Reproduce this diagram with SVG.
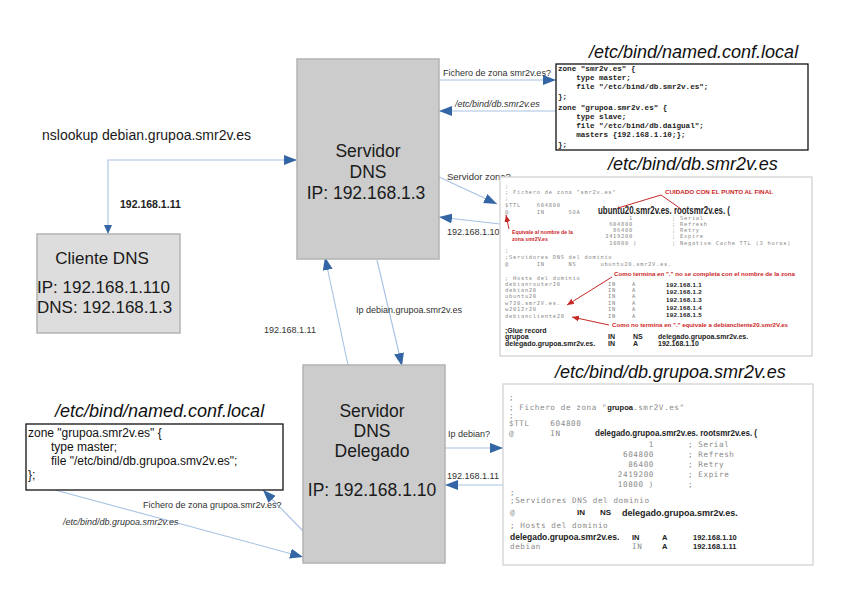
<svg xmlns="http://www.w3.org/2000/svg" width="848" height="599" viewBox="0 0 848 599">
<style>
.bg{fill:#ffffff}
.node{fill:#cccccc;stroke:#b3b3b3;stroke-width:1.5}
.client{fill:#dddddd;stroke:#b3b3b3;stroke-width:1.5}
.big{font-family:"Liberation Sans",Arial,sans-serif;font-size:17.5px;fill:#1a1a1a}
.title{font-family:"Liberation Sans",Arial,sans-serif;font-size:18px;font-style:italic;fill:#111}
.lbl{font-family:"Liberation Sans",Arial,sans-serif;font-size:9px;fill:#333}
.lbli{font-family:"Liberation Sans",Arial,sans-serif;font-size:9px;font-style:italic;fill:#333}
.conn{fill:none;stroke:#a7c1e3;stroke-width:1.1}
.cfg{fill:#ffffff;stroke:#111;stroke-width:1.3}
.cfgtxt{font-family:"Liberation Mono","Courier New",monospace;font-size:7.6px;font-weight:bold;fill:#222;white-space:pre}
.cfgl{font-family:"Liberation Sans",Arial,sans-serif;font-size:12px;fill:#111}
.shot{fill:#ffffff;stroke:#cfcfcf;stroke-width:1.2}
.m1{font-family:"DejaVu Sans Mono",monospace;font-size:5.4px;letter-spacing:0.73px;fill:#8a8a8a;white-space:pre}
.m2{font-family:"DejaVu Sans Mono",monospace;font-size:7.6px;letter-spacing:0.6px;fill:#8a8a8a;white-space:pre}
.b1{font-family:"Liberation Sans",Arial,sans-serif;font-weight:bold;fill:#222}
.ip1{font-family:"Liberation Sans",Arial,sans-serif;font-weight:bold;fill:#222;font-size:6.2px;letter-spacing:0.3px}
.red{font-family:"Liberation Sans",Arial,sans-serif;font-weight:bold;font-size:5.2px;fill:#cc1f1f}
.rl{fill:none;stroke:#c62828;stroke-width:1}
</style>
<defs>
<marker id="ah" markerUnits="userSpaceOnUse" markerWidth="13" markerHeight="10" refX="13" refY="5" orient="auto-start-reverse">
<path d="M0,0 L13,5 L0,10 Z" fill="#3465a4"/>
</marker>
<marker id="ahs" markerUnits="userSpaceOnUse" markerWidth="9" markerHeight="8" refX="9" refY="4" orient="auto-start-reverse">
<path d="M0,0 L9,4 L0,8 Z" fill="#3465a4"/>
</marker>
<marker id="ar" markerUnits="userSpaceOnUse" markerWidth="7" markerHeight="6" refX="7" refY="3" orient="auto">
<path d="M0,0 L7,3 L0,6 Z" fill="#c62828"/>
</marker>
</defs>
<rect class="bg" x="0" y="0" width="848" height="599"/>

<g id="connectors">
<path class="conn" d="M108,234 V160 H297" marker-start="url(#ahs)" marker-end="url(#ah)"/>
<path class="conn" d="M439,80 H556" marker-end="url(#ah)"/>
<path class="conn" d="M556,111 H439" marker-end="url(#ah)"/>
<path class="conn" d="M437,176 L497,204" marker-end="url(#ah)"/>
<path class="conn" d="M500,224 L439,217" marker-end="url(#ah)"/>
<path class="conn" d="M348,365 L325,257" marker-end="url(#ah)"/>
<path class="conn" d="M377,260 L402,366" marker-end="url(#ah)"/>
<path class="conn" d="M445,448 H503" marker-end="url(#ah)"/>
<path class="conn" d="M503,485 H445" marker-end="url(#ah)"/>
<path class="conn" d="M305,533 L263,490" marker-end="url(#ah)"/>
<path class="conn" d="M55,490 L303,557" marker-end="url(#ah)"/>
<text class="lbl" x="443" y="76">Fichero de zona smr2v.es?</text>
<text class="lbli" x="455" y="107">/etc/bind/db.smr2v.es</text>
<text class="lbl" x="447" y="180" style="font-size:9.5px">Servidor zona?</text>
<text class="lbl" x="447" y="235">192.168.1.10</text>
<text class="lbl" x="356" y="313">Ip debian.grupoa.smr2v.es</text>
<text class="lbl" x="264" y="333">192.168.1.11</text>
<text class="lbl" x="448" y="437">Ip debian?</text>
<text class="lbl" x="447" y="479">192.168.1.11</text>
<text class="lbl" x="143" y="508">Fichero de zona grupoa.smr2v.es?</text>
<text class="lbli" x="63" y="525">/etc/bind/db.grupoa.smr2v.es</text>
<text class="lbl" x="120" y="208" style="font-size:10.5px;font-weight:bold;fill:#222">192.168.1.11</text>
<text x="42" y="140" style="font-family:'Liberation Sans',Arial,sans-serif;font-size:14px;fill:#1a1a1a">nslookup debian.grupoa.smr2v.es</text>
</g>

<g id="servidor-dns">
<rect class="node" x="297" y="59" width="142" height="200"/>
<text class="big" x="368" y="157" text-anchor="middle">Servidor</text>
<text class="big" x="368" y="178" text-anchor="middle">DNS</text>
<text class="big" x="366" y="199" text-anchor="middle">IP: 192.168.1.3</text>
</g>

<g id="servidor-delegado">
<rect class="node" x="303" y="365" width="142" height="198"/>
<text class="big" x="372" y="417" text-anchor="middle">Servidor</text>
<text class="big" x="372" y="437" text-anchor="middle">DNS</text>
<text class="big" x="372" y="457" text-anchor="middle">Delegado</text>
<text class="big" x="372" y="496" text-anchor="middle">IP: 192.168.1.10</text>
</g>

<g id="cliente-dns">
<rect class="client" x="37" y="234" width="143" height="99"/>
<text class="big" x="102" y="264" text-anchor="middle" style="font-size:17px">Cliente DNS</text>
<text class="big" x="37" y="293" style="font-size:17px">IP: 192.168.1.110</text>
<text class="big" x="37" y="313" style="font-size:17px">DNS: 192.168.1.3</text>
</g>

<g id="named-conf-master">
<text class="title" x="589" y="58">/etc/bind/named.conf.local</text>
<rect class="cfg" x="556" y="64" width="252" height="86"/>
<text class="cfgtxt" x="558" y="71">zone "smr2v.es" {</text>
<text class="cfgtxt" x="558" y="80">    type master;</text>
<text class="cfgtxt" x="558" y="89">    file "/etc/bind/db.smr2v.es";</text>
<text class="cfgtxt" x="558" y="99">};</text>
<text class="cfgtxt" x="558" y="110">zone "grupoa.smr2v.es" {</text>
<text class="cfgtxt" x="558" y="119">    type slave;</text>
<text class="cfgtxt" x="558" y="128">    file "/etc/bind/db.daigual";</text>
<text class="cfgtxt" x="558" y="137">    masters {192.168.1.10;};</text>
<text class="cfgtxt" x="558" y="147">};</text>
</g>

<g id="named-conf-delegado">
<text class="title" x="55" y="417">/etc/bind/named.conf.local</text>
<rect class="cfg" x="26" y="424" width="257" height="66"/>
<text class="cfgl" x="28" y="437">zone "grupoa.smr2v.es" {</text>
<text class="cfgl" x="51" y="451">type master;</text>
<text class="cfgl" x="51" y="465">file "/etc/bind/db.grupoa.smv2v.es";</text>
<text class="cfgl" x="28" y="479">};</text>
</g>

<g id="db-smr2v">
<text class="title" x="608" y="170">/etc/bind/db.smr2v.es</text>
<rect class="shot" x="500" y="177" width="312" height="179"/>
<text class="m1" x="505" y="188">;</text>
<text class="m1" x="505" y="194">; Fichero de zona "smr2v.es"</text>
<text class="m1" x="505" y="200">;</text>
<text class="m1" x="505" y="207">$TTL    604800</text>
<text class="m1" x="505" y="214">@       IN      SOA</text>
<text class="b1" x="598" y="214" style="font-size:10px" textLength="132" lengthAdjust="spacingAndGlyphs">ubuntu20.smr2v.es. rootsmr2v.es. (</text>
<text class="m1" x="633" y="220" text-anchor="end">1</text>
<text class="m1" x="633" y="226" text-anchor="end">604800</text>
<text class="m1" x="633" y="232" text-anchor="end">86400</text>
<text class="m1" x="633" y="238" text-anchor="end">2419200</text>
<text class="m1" x="637" y="245" text-anchor="end">10800 )</text>
<text class="m1" x="672" y="220">; Serial</text>
<text class="m1" x="672" y="226">; Refresh</text>
<text class="m1" x="672" y="232">; Retry</text>
<text class="m1" x="672" y="238">; Expire</text>
<text class="m1" x="672" y="245">; Negative Cache TTL (3 horas)</text>
<text class="m1" x="505" y="252">;</text>
<text class="m1" x="505" y="259">;Servidores DNS del dominio</text>
<text class="m1" x="505" y="266">@       IN      NS      ubuntu20.smr2V.es.</text>
<text class="m1" x="505" y="280">; Hosts del dominio</text>
<text class="m1" x="505" y="286">debianrouter20</text>
<text class="m1" x="505" y="292">debian20</text>
<text class="m1" x="505" y="298">ubuntu20</text>
<text class="m1" x="505" y="305">w720.smr2V.es.</text>
<text class="m1" x="505" y="311">w2012r20</text>
<text class="m1" x="505" y="318">debiancliente20</text>
<text class="m1" x="608" y="286">IN</text><text class="m1" x="632" y="286">A</text>
<text class="m1" x="608" y="292">IN</text><text class="m1" x="632" y="292">A</text>
<text class="m1" x="608" y="298">IN</text><text class="m1" x="632" y="298">A</text>
<text class="m1" x="608" y="305">IN</text><text class="m1" x="632" y="305">A</text>
<text class="m1" x="608" y="311">IN</text><text class="m1" x="632" y="311">A</text>
<text class="m1" x="608" y="318">IN</text><text class="m1" x="632" y="318">A</text>
<text class="ip1" x="666" y="287">192.168.1.1</text>
<text class="ip1" x="666" y="294">192.168.1.2</text>
<text class="ip1" x="666" y="302">192.168.1.3</text>
<text class="ip1" x="666" y="310">192.168.1.4</text>
<text class="ip1" x="666" y="317">192.168.1.5</text>
<text class="b1" x="505" y="333" style="font-size:7px">;Glue record</text>
<text class="b1" x="505" y="339" style="font-size:7px">grupoa</text>
<text class="b1" x="608" y="339" style="font-size:7px">IN</text>
<text class="b1" x="633" y="339" style="font-size:7px">NS</text>
<text class="b1" x="658" y="339" style="font-size:7px">delegado.grupoa.smr2v.es.</text>
<text class="b1" x="505" y="346" style="font-size:7px">delegado.grupoa.smr2v.es.</text>
<text class="b1" x="608" y="346" style="font-size:7px">IN</text>
<text class="b1" x="633" y="346" style="font-size:7px">A</text>
<text class="b1" x="658" y="346" style="font-size:7px">192.168.1.10</text>
<text class="red" x="665" y="194" textLength="108" lengthAdjust="spacingAndGlyphs">CUIDADO CON EL PUNTO AL FINAL</text>
<path class="rl" d="M661,195 L618,208 M661,195 L681,209"/>
<path class="rl" d="M509,229 L506,215" marker-end="url(#ar)"/>
<text class="red" x="512" y="234">Equivale al nombre de la</text>
<text class="red" x="512" y="241">zona smr2V.es</text>
<text class="red" x="614" y="276" textLength="181" lengthAdjust="spacingAndGlyphs">Como termina en "." no se completa con el nombre de la zona</text>
<path class="rl" d="M612,277 L567,305" marker-end="url(#ar)"/>
<text class="red" x="612" y="327" textLength="176" lengthAdjust="spacingAndGlyphs">Como no termina en "." equivale a debiancliente20.smr2V.es</text>
<path class="rl" d="M609,325 L572,317" marker-end="url(#ar)"/>
</g>

<g id="db-grupoa">
<text class="title" x="555" y="378">/etc/bind/db.grupoa.smr2v.es</text>
<rect class="shot" x="503" y="384" width="310" height="181"/>
<text class="m2" x="509" y="400">;</text>
<text class="m2" x="509" y="410">; Fichero de zona "<tspan style="font-family:'Liberation Sans',Arial,sans-serif;font-weight:bold;fill:#222;letter-spacing:0">grupoa</tspan>.smr2V.es"</text>
<text class="m2" x="509" y="418">;</text>
<text class="m2" x="509" y="426">$TTL    604800</text>
<text class="m2" x="509" y="436">@       IN</text>
<text class="b1" x="595" y="436" style="font-size:9.5px" textLength="162" lengthAdjust="spacingAndGlyphs">delegado.grupoa.smr2v.es.   rootsmr2v.es. (</text>
<text class="m2" x="654" y="447" text-anchor="end">1</text>
<text class="m2" x="654" y="457" text-anchor="end">604800</text>
<text class="m2" x="654" y="467" text-anchor="end">86400</text>
<text class="m2" x="654" y="477" text-anchor="end">2419200</text>
<text class="m2" x="654" y="487" text-anchor="end">10800 )</text>
<text class="m2" x="688" y="447">; Serial</text>
<text class="m2" x="688" y="457">; Refresh</text>
<text class="m2" x="688" y="467">; Retry</text>
<text class="m2" x="688" y="477">; Expire</text>
<text class="m2" x="688" y="487">;</text>
<text class="m2" x="510" y="495">;</text>
<text class="m2" x="510" y="503">;Servidores DNS del dominio</text>
<text class="m2" x="510" y="515">@</text>
<text class="b1" x="577" y="515" style="font-size:8px">IN</text>
<text class="b1" x="600" y="515" style="font-size:8px">NS</text>
<text class="b1" x="622" y="516" style="font-size:9px">delegado.grupoa.smr2v.es.</text>
<text class="m2" x="510" y="528">; Hosts del dominio</text>
<text class="b1" x="510" y="540" style="font-size:8.5px">delegado.grupoa.smr2v.es.</text>
<text class="b1" x="632" y="540" style="font-size:7.5px">IN</text>
<text class="b1" x="662" y="540" style="font-size:7.5px">A</text>
<text class="b1" x="693" y="540" style="font-size:7.5px">192.168.1.10</text>
<text class="m2" x="510" y="549">debian</text>
<text class="m2" x="632" y="549">IN</text>
<text class="b1" x="662" y="549" style="font-size:7.5px">A</text>
<text class="b1" x="693" y="549" style="font-size:7.5px">192.168.1.11</text>
</g>
</svg>
